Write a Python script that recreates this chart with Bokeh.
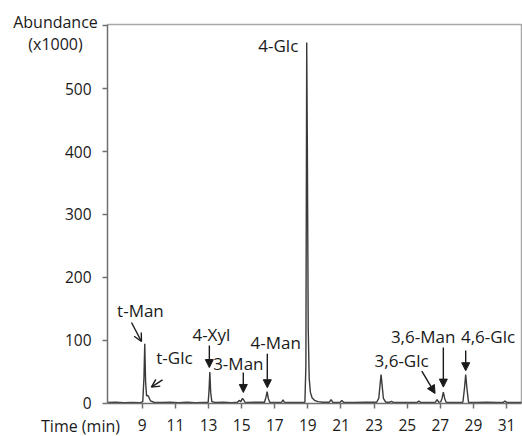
from bokeh.plotting import figure
from bokeh.models import Range1d, FixedTicker, Label, Arrow, NormalHead, OpenHead
from bokeh.embed import file_html
from bokeh.resources import INLINE

# Chromatogram trace (time in min, abundance x1000)
time_min = [6.9, 7.4, 7.9, 8.4, 8.9,
            9.03, 9.1, 9.15, 9.2, 9.26, 9.33, 9.4, 9.5, 9.7,
            10.2, 10.7, 11.2, 11.7, 12.2, 12.7,
            12.98, 13.03, 13.08, 13.13, 13.2, 13.4,
            13.9, 14.4,
            14.75, 14.85, 14.95, 15.05, 15.12, 15.2, 15.35,
            15.8,
            16.38, 16.47, 16.54, 16.61, 16.7,
            17.1, 17.42, 17.5, 17.58,
            18.0, 18.5,
            18.82, 18.88, 18.93, 18.97, 19.02, 19.08, 19.15, 19.25, 19.4, 19.6, 19.9,
            20.3, 20.4, 20.5, 20.8, 20.95, 21.05, 21.15,
            21.8, 22.5,
            23.15, 23.28, 23.36, 23.42, 23.48, 23.56, 23.7,
            23.95, 24.05, 24.15,
            25.0, 25.6, 25.7, 25.8,
            26.5, 26.7, 26.8, 26.9, 27.02, 27.1, 27.18, 27.26, 27.35,
            27.6, 28.1,
            28.36, 28.46, 28.53, 28.6, 28.7,
            29.2, 29.8, 30.4, 30.8, 30.9, 31.0, 31.5, 31.9]
abundance = [1.5, 2.0, 1.2, 1.8, 1.4,
             3, 40, 95, 35, 12, 13, 10, 4, 2,
             1.6, 2.1, 1.3, 1.9, 1.4, 1.8,
             2, 20, 50, 18, 3, 1.6,
             1.9, 1.4,
             2, 5, 3, 8, 6, 2, 1.6,
             1.9,
             2, 10, 19, 8, 2,
             1.5, 2, 6, 2,
             1.6, 1.8,
             2, 60, 573, 400, 120, 40, 18, 9, 5, 3, 2,
             2, 6, 2, 1.8, 2, 5, 2,
             1.6, 1.9,
             2, 8, 30, 46, 30, 8, 2,
             2, 3.5, 1.8,
             1.5, 1.8, 4, 1.8,
             1.6, 2, 6, 2, 2.5, 8, 18, 8, 2,
             1.7, 1.6,
             2, 25, 46, 25, 2,
             1.6, 1.9, 1.5, 1.8, 4, 1.8, 1.5, 1.6]

x_ticks = [9, 11, 13, 15, 17, 19, 21, 23, 25, 27, 29, 31]
y_ticks = [0, 100, 200, 300, 400, 500, 600]

peak_names = ["t-Man", "t-Glc", "4-Xyl", "3-Man", "4-Man", "4-Glc",
              "3,6-Glc", "3,6-Man", "4,6-Glc"]

# plotting box (axis extents)
X0, X1 = 6.9, 31.9
Y0, Y1 = 0, 601.6

FONT = "Open Sans"
TXT = "#1a1a1a"
AX = "#707070"

# the frame covers the whole canvas; the axes are pinned at the box edges
p = figure(frame_width=522, frame_height=436,
           x_range=Range1d(0.439, 31.96), y_range=Range1d(-52.4, 639.7),
           output_backend="svg", toolbar_location=None,
           min_border_left=0, min_border_top=0, min_border_right=0,
           min_border_bottom=0)
p.background_fill_color = "white"
p.border_fill_color = "white"
p.outline_line_color = None
p.xgrid.visible = False
p.ygrid.visible = False

for ax in (p.xaxis, p.yaxis):
    ax.axis_line_color = AX
    ax.axis_line_width = 1.5
    ax.major_tick_line_color = AX
    ax.major_tick_line_width = 1.5
    ax.major_tick_in = 0
    ax.major_tick_out = 5
    ax.minor_tick_line_color = None
    ax.major_label_text_font = FONT
    ax.major_label_text_font_size = "15.5px"
    ax.major_label_text_color = TXT

p.xaxis.fixed_location = Y0
p.yaxis.fixed_location = X0
p.xaxis.bounds = (X0, X1)
p.yaxis.bounds = (Y0, Y1)
p.xaxis.ticker = FixedTicker(ticks=x_ticks)
p.yaxis.ticker = FixedTicker(ticks=y_ticks)
p.yaxis.major_label_overrides = {600: ""}
p.xaxis.major_label_standoff = 11
p.yaxis.major_label_standoff = 11

# top and right edges of the box
p.line([X0, X1, X1], [Y1, Y1, Y0], line_color="#a8a8a8", line_width=1.5)

p.line(time_min, abundance, line_color="#3a3a3a", line_width=1.4)

# peak labels: (x, y, align)
label_pos = [(8.89, 148, "center"), (10.94, 73, "center"), (13.17, 109.5, "center"),
             (14.80, 63.5, "center"), (17.06, 97, "center"), (18.42, 568, "right"),
             (24.66, 68, "center"), (25.96, 106, "center"), (29.88, 106, "center")]
for name, (lx, ly, al) in zip(peak_names, label_pos):
    p.add_layout(Label(x=lx, y=ly, text=name, text_align=al, text_baseline="middle",
                       text_font=FONT, text_font_size="17px", text_color=TXT))

# axis titles
for t, lx, ly in [("Abundance", 3.76, 605), ("(x1000)", 3.76, 570), ("Time (min)", 5.27, -36.5)]:
    p.add_layout(Label(x=lx, y=ly, text=t, text_align="center", text_baseline="middle",
                       text_font=FONT, text_font_size="16px", text_color=TXT))

# arrows: (x0, y0, x1, y1, style)
arrow_pos = [(8.35, 128.6, 8.95, 98.4, "open"),
             (10.22, 37.6, 9.55, 25.9, "open"),
             (13.05, 92, 13.05, 57, "filled"),
             (15.1, 49, 15.1, 17.5, "filled"),
             (16.55, 79, 16.55, 25, "filled"),
             (25.88, 51.3, 26.68, 15.9, "filled"),
             (27.18, 89, 27.18, 26, "filled"),
             (28.53, 84, 28.53, 52, "filled")]
for x0, y0, x1, y1, st in arrow_pos:
    if st == "open":
        head = OpenHead(size=8, line_color="#1a1a1a", line_width=1.4)
    else:
        head = NormalHead(size=8, fill_color="#1a1a1a", line_color="#1a1a1a", line_width=1)
    p.add_layout(Arrow(end=head, x_start=x0, y_start=y0, x_end=x1, y_end=y1,
                       line_color="#1a1a1a", line_width=1.4))

open("out.html", "w").write(file_html(p, INLINE))
